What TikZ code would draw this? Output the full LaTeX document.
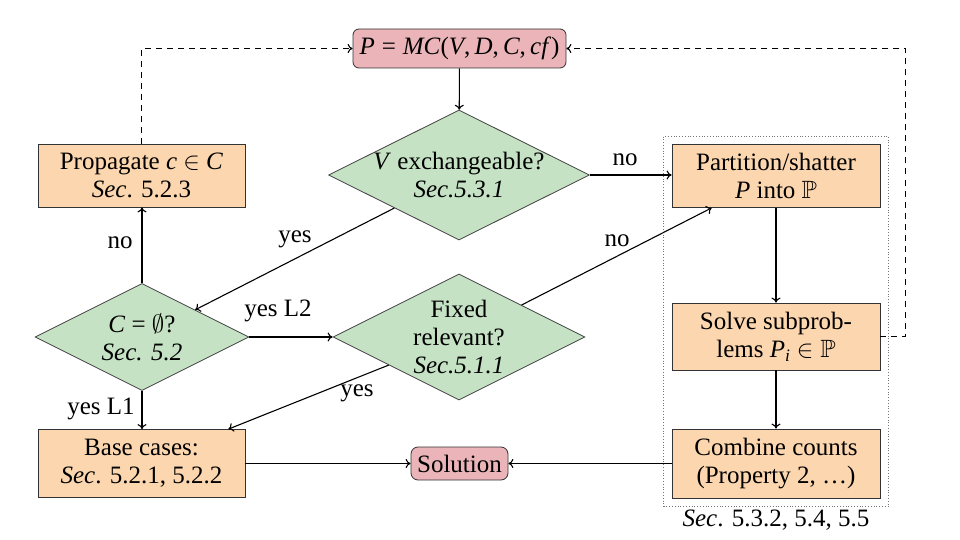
\documentclass[tikz,border=0pt]{standalone}
\usepackage{fontspec}
\usepackage{amssymb}
\setmainfont{Liberation Serif}
\usetikzlibrary{shapes.geometric,arrows.meta,fit,positioning}
\definecolor{boxfill}{RGB}{252,214,174}
\definecolor{dfill}{RGB}{197,226,196}
\definecolor{pfill}{RGB}{234,180,184}
\begin{document}
\begin{tikzpicture}[x=1pt,y=-1pt,
  every node/.style={font=\fontsize{25}{28}\selectfont, align=center, inner sep=0pt},
  proc/.style={draw=black!80, line width=0.8pt, fill=boxfill, minimum width=207pt},
  dec/.style={diamond, draw=black!75, line width=0.8pt, fill=dfill, shape aspect=2, inner sep=-6pt},
  term/.style={draw=black!80, line width=0.8pt, fill=pfill, rounded corners=6pt},
  arr/.style={line width=1.1pt, -{To[length=5pt,width=9pt]}},
  dashline/.style={line width=1.1pt, dash pattern=on 6pt off 5pt, -{To[length=5pt,width=9pt]}},
  lab/.style={}
]
\useasboundingbox (0,0) rectangle (960,540);

% nodes
\node[term, minimum width=213pt, minimum height=39pt] (mc) at (459.5,48.5)
  {\textit{P}\;=\;\textit{MC}(\textit{V},\,\textit{D},\,\textit{C},\,\textit{cf})};
\node[proc, minimum height=63pt] (prop) at (141.5,175.5)
  {Propagate \textit{c} $\in$ \textit{C}\\\textit{Sec}. 5.2.3};
\node[dec, minimum width=261pt, minimum height=130pt] (vex) at (459,175)
  {\textit{V} exchangeable?\\\textit{Sec.5.3.1}};
\node[dec, minimum width=214pt, minimum height=107pt] (cem) at (142,337)
  {\textit{C} = $\emptyset$?\\\textit{Sec. 5.2}};
\node[dec, minimum width=252pt, minimum height=126pt] (fix) at (459,337)
  {Fixed\\relevant?\\\textit{Sec.5.1.1}};
\node[proc, minimum width=208pt, minimum height=63pt] (part) at (776,176)
  {Partition/shatter\\\textit{P} into $\mathbb{P}$};
\node[proc, minimum width=208pt, minimum height=67pt] (solve) at (776,336.5)
  {Solve subprob-\\lems \textit{P}\textsubscript{\textit{i}} $\in\mathbb{P}$};
\node[proc, minimum width=208pt, minimum height=69pt] (comb) at (776,463.5)
  {Combine counts\\(Property 2, \ldots)};
\node[proc, minimum height=68pt] (base) at (141.5,463.5)
  {Base cases:\\\textit{Sec}. 5.2.1, 5.2.2};
\node[term, minimum width=97pt, minimum height=33pt, rounded corners=7pt] (sol) at (459.5,463.5)
  {Solution};
\node[draw=black!55, dotted, line width=0.8pt, fit=(part)(solve)(comb), inner sep=8pt] (grp) {};
\node[below=3pt of grp] (grplab) {\textit{Sec}. 5.3.2, 5.4, 5.5};

% connectors
\draw[arr] (mc) -- (vex);
\draw[arr] (vex.east) -- (vex.east -| part.west) node[lab, at={(625,160)}] {no};
\draw[arr] (vex) -- (cem) node[lab, at={(295,239)}] {yes};
\draw[arr] (cem.north) -- (cem.north |- prop.south) node[lab, at={(120,243)}] {no};
\draw[arr] (cem.east) -- (fix.west) node[lab, at={(278,311)}] {yes L2};
\draw[arr] (fix) -- ([xshift=40pt]part.south west) node[lab, at={(617,241)}] {no};
\draw[arr] (fix) -- ([xshift=-17pt]base.north east) node[lab, at={(357,393)}] {yes};
\draw[arr] (cem.south) -- (cem.south |- base.north) node[lab, at={(101,409)}] {yes L1};
\draw[arr] (base.east) -- (sol.west);
\draw[arr] (comb.west) -- (sol.east);
\draw[arr] (part) -- (solve);
\draw[arr] (solve) -- (comb);
\draw[dashline] (prop.north) -- (prop.north |- mc.west) -- (mc.west);
\draw[dashline] (solve.east) -- ++(25,0) coordinate (dr) |- (mc.east);
\end{tikzpicture}
\end{document}
